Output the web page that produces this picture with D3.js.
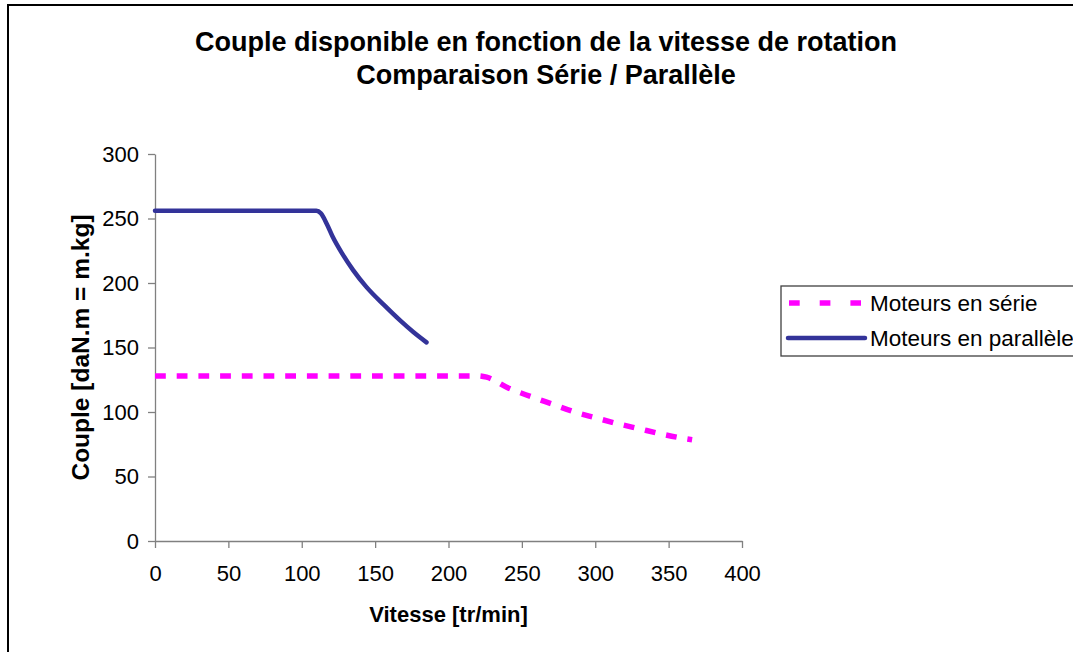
<!DOCTYPE html>
<html>
<head>
<meta charset="utf-8">
<script src="https://cdn.jsdelivr.net/npm/d3@7"></script>
<style>
    body{margin:0;background:#fff;}
    svg{display:block;font-family:"Liberation Sans",Arial,sans-serif;}
</style>
</head>
<body>
<div id="plot"></div>
<script>
//Values
var vitesseSerie = [0, 100, 200, 220, 226, 240, 256, 271, 286, 300, 315, 330, 345, 360, 366];
var coupleSerie = [128, 128, 128, 128, 127, 119, 112, 106, 100, 95.6, 91, 87, 83, 79.6, 78.5];

var vitesseParallele = [0, 50, 100, 110, 113, 117, 121, 128, 135, 144, 156, 167, 176, 185];
var coupleParallele = [256, 256, 256, 256, 254, 246, 236, 222, 210, 197, 183, 171, 162, 154];

var xTicks = [0, 50, 100, 150, 200, 250, 300, 350, 400];
var yTicks = [0, 50, 100, 150, 200, 250, 300];

var seriesNames = ['Moteurs en série', 'Moteurs en parallèle'];
var titleLines = ['Couple disponible en fonction de la vitesse de rotation', 'Comparaison Série / Parallèle'];

//Set up drawing environment with margin conventions
var W = 1073, H = 652;
var margin = {t:154,r:331,b:111,l:155};
var width = W - margin.l - margin.r,
    height = H - margin.t - margin.b;

var svg = d3.select('#plot')
    .append('svg')
    .attr('width',W)
    .attr('height',H);

//outer chart frame (runs off the right and bottom edges)
svg.append('rect')
    .attr('x',8).attr('y',5)
    .attr('width',W+20).attr('height',H+20)
    .style('fill','none')
    .style('stroke','#000')
    .style('stroke-width',2);

var plot = svg.append('g')
    .attr('class','plot-area')
    .attr('transform','translate('+margin.l+','+margin.t+')');

var x = d3.scaleLinear().domain([0,400]).range([0,width]);
var y = d3.scaleLinear().domain([0,300]).range([height,0]);

//axes
var yAxis = d3.axisLeft(y).tickValues(yTicks).tickSize(7).tickPadding(9).tickSizeOuter(0);
var xAxis = d3.axisBottom(x).tickValues(xTicks).tickSize(7).tickPadding(17).tickSizeOuter(0);

var gy = plot.append('g').call(yAxis);
var gx = plot.append('g').attr('transform','translate(0,'+height+')').call(xAxis);

[gx, gy].forEach(function(g){
    g.selectAll('path,line').style('stroke','#808080').style('stroke-width',1.3);
    g.selectAll('text').style('font-size','22px').style('fill','#000').style('font-family','"Liberation Sans",Arial,sans-serif');
});

//curves
var line = d3.line()
    .x(function(d){ return x(d[0]); })
    .y(function(d){ return y(d[1]); })
    .curve(d3.curveMonotoneX);

var serie = vitesseSerie.map(function(v,i){ return [v, coupleSerie[i]]; });
var parallele = vitesseParallele.map(function(v,i){ return [v, coupleParallele[i]]; });

plot.append('path')
    .datum(serie)
    .attr('d',line)
    .style('fill','none')
    .style('stroke','#ff00ff')
    .style('stroke-width',5.5)
    .style('stroke-dasharray','10.8,10.9');

plot.append('path')
    .datum(parallele)
    .attr('d',line)
    .style('fill','none')
    .style('stroke','#333399')
    .style('stroke-width',4.5)
    .style('stroke-linecap','round')
    .style('stroke-linejoin','round');

//titles
svg.selectAll('text.title')
    .data(titleLines)
    .enter()
    .append('text')
    .attr('class','title')
    .attr('x',546)
    .attr('y',function(d,i){ return 51 + i*33; })
    .attr('text-anchor','middle')
    .style('font-size','27px')
    .style('font-weight','bold')
    .text(function(d){ return d; });

svg.append('text')
    .attr('x',margin.l + width/2)
    .attr('y',622)
    .attr('text-anchor','middle')
    .style('font-size','22px')
    .style('font-weight','bold')
    .text('Vitesse [tr/min]');

svg.append('text')
    .attr('transform','translate(89,'+(margin.t + height/2)+') rotate(-90)')
    .attr('text-anchor','middle')
    .style('font-size','24.5px')
    .style('font-weight','bold')
    .text('Couple [daN.m = m.kg]');

//legend
var legend = svg.append('g').attr('transform','translate(781,286)');
legend.append('rect')
    .attr('width',330).attr('height',70)
    .style('fill','#fff')
    .style('stroke','#404040')
    .style('stroke-width',1.3);

var legendStyles = [
    {color:'#ff00ff', w:5.5, dash:'10.7,20', cap:'butt', x0:8, x1:80},
    {color:'#333399', w:4.5, dash:null, cap:'round', x0:7, x1:84}
];

legendStyles.forEach(function(s,i){
    var ly = 17 + i*35;
    legend.append('line')
        .attr('x1',s.x0).attr('x2',s.x1)
        .attr('y1',ly).attr('y2',ly)
        .style('stroke',s.color)
        .style('stroke-width',s.w)
        .style('stroke-linecap',s.cap)
        .style('stroke-dasharray',s.dash);
    legend.append('text')
        .attr('x',89)
        .attr('y',ly + 8)
        .style('font-size','22.5px')
        .text(seriesNames[i]);
});
</script>
</body>
</html>
